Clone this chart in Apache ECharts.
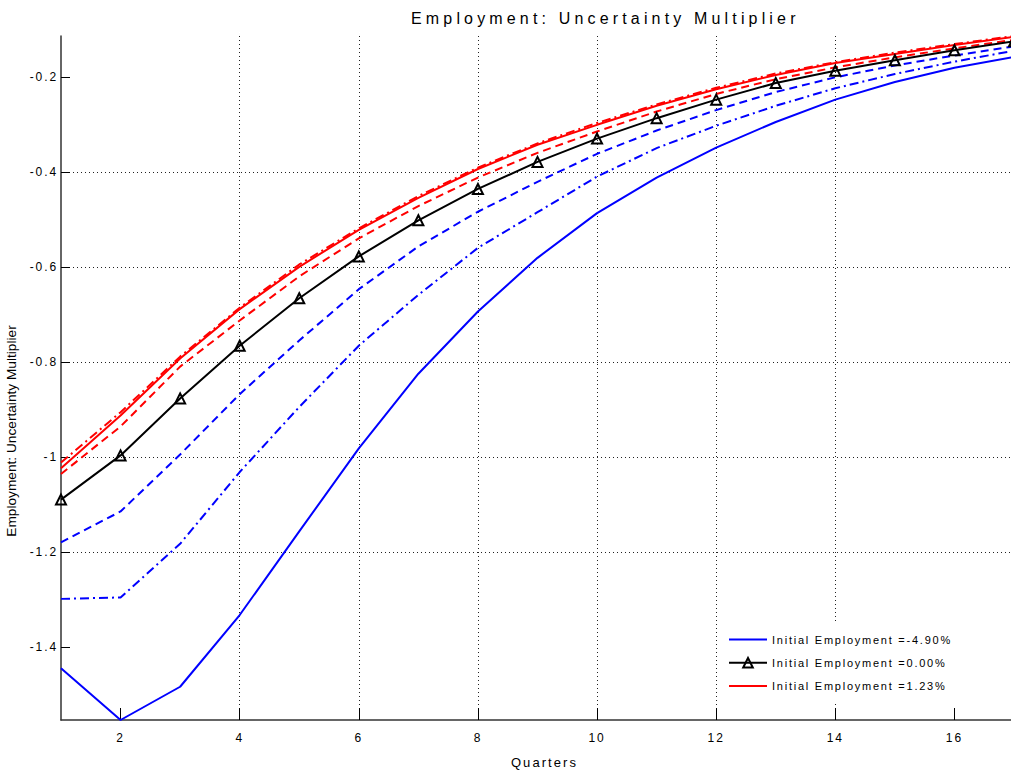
<!DOCTYPE html>
<html>
<head>
<meta charset="utf-8">
<script src="https://cdn.jsdelivr.net/npm/echarts@6/dist/echarts.min.js"></script>
<style>
  html, body { margin: 0; padding: 0; background: #fff; }
  #chart { width: 1011px; height: 774px; }
</style>
</head>
<body>
<div id="chart"></div>
<script>
// Quarters after the shock
const quarters = [1, 2, 3, 4, 5, 6, 7, 8, 9, 10, 11, 12, 13, 14, 15, 16, 17];
const xTicks = [2, 4, 6, 8, 10, 12, 14, 16];
const yTicks = [-1.4, -1.2, -1.0, -0.8, -0.6, -0.4, -0.2];

// Initial employment = -4.90% (solid, dashed, dash-dot variants)
const blueSolid   = [-1.445, -1.554, -1.484, -1.333, -1.157, -0.982, -0.825, -0.694, -0.581, -0.487, -0.412, -0.349, -0.295, -0.248, -0.211, -0.181, -0.158];
const blueDash    = [-1.180, -1.115, -0.995, -0.868, -0.755, -0.647, -0.557, -0.484, -0.421, -0.362, -0.313, -0.270, -0.232, -0.201, -0.176, -0.155, -0.136];
const blueDashDot = [-1.299, -1.296, -1.183, -1.032, -0.895, -0.766, -0.659, -0.560, -0.485, -0.410, -0.350, -0.303, -0.261, -0.224, -0.194, -0.168, -0.145];

// Initial employment = 0.00%
const blackMarked = [-1.090, -0.997, -0.877, -0.766, -0.666, -0.578, -0.502, -0.436, -0.379, -0.330, -0.287, -0.248, -0.213, -0.187, -0.165, -0.144, -0.125];

// Initial employment = 1.23% (solid, dashed, dash-dot variants)
const redSolid    = [-1.024, -0.913, -0.793, -0.689, -0.600, -0.522, -0.455, -0.394, -0.343, -0.301, -0.261, -0.226, -0.196, -0.171, -0.152, -0.133, -0.116];
const redDash     = [-1.036, -0.936, -0.810, -0.713, -0.620, -0.540, -0.472, -0.412, -0.360, -0.315, -0.273, -0.236, -0.205, -0.180, -0.159, -0.140, -0.122];
const redDashDot  = [-1.012, -0.906, -0.789, -0.686, -0.595, -0.519, -0.451, -0.391, -0.340, -0.297, -0.258, -0.223, -0.193, -0.169, -0.149, -0.131, -0.114];

const legendNames = ['Initial Employment =-4.90%', 'Initial Employment =0.00%', 'Initial Employment =1.23%'];
const titleText = 'Employment: Uncertainty Multiplier';
const yName = 'Employment: Uncertainty Multiplier';
const xName = 'Quarters';

const FONT = '"Liberation Sans", Arial, Helvetica, sans-serif';
const DASH = [8, 5];
const DASHDOT = [9, 4, 2, 4];

function pairs(values) {
  return quarters.map((q, i) => [q, values[i]]);
}

function lineSeries(name, values, color, type, z) {
  return {
    name: name,
    type: 'line',
    data: pairs(values),
    symbol: 'none',
    z: z,
    lineStyle: { color: color, width: 2, type: type },
    itemStyle: { color: color },
    emphasis: { disabled: true }
  };
}

const series = [
  lineSeries('blue-dashdot', blueDashDot, '#0000ff', DASHDOT, 2),
  lineSeries('blue-dash', blueDash, '#0000ff', DASH, 2),
  lineSeries(legendNames[0], blueSolid, '#0000ff', 'solid', 2),
  lineSeries('red-dash', redDash, '#ff0000', DASH, 2),
  lineSeries('red-dashdot', redDashDot, '#ff0000', DASHDOT, 2),
  lineSeries(legendNames[2], redSolid, '#ff0000', 'solid', 3),
  {
    name: legendNames[1],
    type: 'line',
    data: pairs(blackMarked),
    symbol: 'triangle',
    symbolSize: 10,
    z: 4,
    lineStyle: { color: '#000', width: 2 },
    itemStyle: { color: 'rgba(255,255,255,0)', borderColor: '#000', borderWidth: 2 },
    emphasis: { disabled: true }
  }
];

const option = {
  animation: false,
  backgroundColor: '#fff',
  textStyle: { fontFamily: FONT },
  title: {
    text: titleText,
    left: 406,
    top: 5,
    textStyle: { fontFamily: FONT, fontSize: 16, fontWeight: 'normal', color: '#000' }
  },
  grid: { left: 61, right: -3, top: 36, bottom: 54, containLabel: false, outerBoundsMode: 'none' },
  legend: {
    data: [
      { name: legendNames[0], itemStyle: { opacity: 0 } },
      { name: legendNames[1] },
      { name: legendNames[2], itemStyle: { opacity: 0 } }
    ],
    orient: 'vertical',
    left: 728,
    top: 634,
    padding: 0,
    itemWidth: 38,
    itemHeight: 12,
    itemGap: 12,
    selectedMode: false,
    textStyle: { fontFamily: FONT, fontSize: 11, color: '#000' }
  },
  graphic: [
    { type: 'rect', z: 1, shape: { x: 720, y: 624, width: 203, height: 80 }, style: { fill: '#fff' } }
  ],
  xAxis: {
    type: 'value',
    min: 'dataMin',
    max: 'dataMax',
    splitNumber: 8,
    name: xName,
    nameLocation: 'middle',
    nameGap: 36,
    nameTextStyle: { fontFamily: FONT, fontSize: 13, color: '#000', padding: [0, 0, 0, 14] },
    axisLine: { lineStyle: { color: '#333', width: 1.5 } },
    axisTick: { inside: true, length: 12, customValues: xTicks, lineStyle: { color: '#000', width: 1 } },
    axisLabel: { customValues: xTicks, margin: 12, color: '#000', fontSize: 12, fontFamily: FONT },
    splitLine: { show: true, showMinLine: false, showMaxLine: false, lineStyle: { color: '#222', type: [1, 3], width: 1 } }
  },
  yAxis: {
    type: 'value',
    min: 'dataMin',
    max: 'dataMax',
    splitNumber: 7,
    name: yName,
    nameLocation: 'middle',
    nameRotate: 90,
    nameGap: 43,
    nameTextStyle: { fontFamily: FONT, fontSize: 13.7, color: '#000', padding: [0, 106, 0, 0] },
    axisLine: { show: true, lineStyle: { color: '#333', width: 1.5 } },
    axisTick: { show: true, inside: true, length: 9, customValues: yTicks, lineStyle: { color: '#000', width: 1 } },
    axisLabel: { customValues: yTicks, margin: 3, color: '#000', fontSize: 12, fontFamily: FONT,
      formatter: v => String(Math.round(v * 10) / 10) },
    splitLine: { show: true, showMinLine: false, showMaxLine: false, lineStyle: { color: '#222', type: [1, 3], width: 1 } }
  },
  series: series
};

const chart = echarts.init(document.getElementById('chart'), null, { renderer: 'svg' });
chart.setOption(option);

// Wide letter spacing on the title and labels, plain spacing on the vertical axis name
function applySpacing() {
  let seenTitle = false;
  document.querySelectorAll('#chart svg text').forEach(t => {
    const s = t.textContent;
    if (s === titleText && !seenTitle && parseFloat(t.style.fontSize || '0') !== 13.7 && !/13\.7px/.test(t.getAttribute('style') || '')) {
      seenTitle = true;
      t.style.letterSpacing = '0.26em';
    } else if (s === yName) {
      t.style.letterSpacing = '0';
    } else {
      t.style.letterSpacing = '0.16em';
    }
  });
}
applySpacing();
chart.on('finished', applySpacing);
</script>
</body>
</html>
